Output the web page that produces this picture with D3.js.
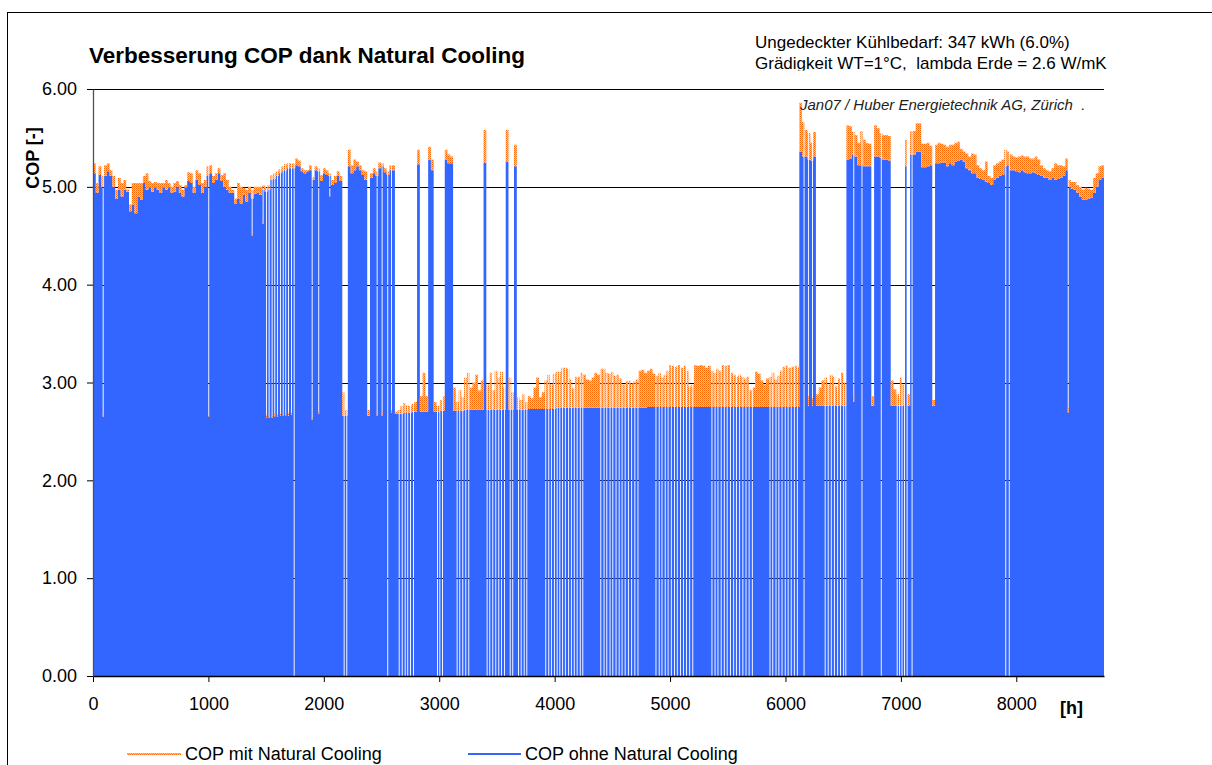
<!DOCTYPE html>
<html>
<head>
<meta charset="utf-8">
<script src="https://cdn.jsdelivr.net/npm/d3@7"></script>
<style>
  html, body { margin: 0; padding: 0; background: #fff; overflow: hidden; }
  svg { display: block; font-family: "Liberation Sans", Arial, sans-serif; }
  .keep-space { white-space: pre; }
</style>
</head>
<body>
<svg id="chart" width="1212" height="765"></svg>
<script>
// Daily COP values (one entry per day of the year, hour = day * 24)
const dayCopOhne = [
  5.14, 4.94, 5.12, 5.00, 5.11, 5.16, 5.11, 5.00, 4.88, 4.97,
  4.90, 4.97, 4.95, 4.75, 4.82, 4.73, 4.90, 4.87, 5.04, 4.97,
  4.99, 4.95, 4.99, 4.97, 4.94, 4.99, 4.97, 4.99, 4.94, 4.95,
  5.00, 4.94, 4.90, 4.99, 5.06, 5.04, 4.94, 5.07, 5.02, 4.94,
  5.00, 5.11, 5.14, 5.04, 5.07, 5.14, 5.06, 5.00, 4.97, 4.94,
  4.94, 4.83, 4.88, 4.83, 4.92, 4.85, 4.94, 4.88, 4.93, 4.94,
  4.92, 4.97, 4.95, 4.97, 5.07, 5.08, 5.11, 5.14, 5.16, 5.17,
  5.19, 5.19, 5.19, 5.22, 5.21, 5.16, 5.14, 5.16, 5.17, 5.07,
  5.17, 5.16, 5.06, 5.14, 5.12, 5.11, 5.02, 5.04, 5.11, 5.06,
  2.66, 2.66, 5.21, 5.14, 5.17, 5.21, 5.17, 5.12, 5.07, 2.66,
  5.09, 5.14, 5.11, 5.19, 5.21, 5.15, 5.12, 5.17, 5.17, 2.68,
  2.68, 2.68, 2.69, 2.69, 2.69, 2.70, 2.70, 5.23, 2.70, 2.70,
  2.70, 5.28, 5.17, 2.70, 2.70, 2.71, 2.71, 5.28, 5.24, 5.24,
  2.71, 2.71, 2.71, 2.71, 2.72, 2.72, 2.72, 2.72, 2.72, 2.72,
  2.72, 5.25, 2.72, 2.72, 2.72, 2.72, 2.72, 2.72, 2.72, 5.26,
  2.72, 2.72, 5.21, 2.72, 2.72, 2.72, 2.72, 2.73, 2.73, 2.73,
  2.73, 2.73, 2.73, 2.73, 2.73, 2.73, 2.73, 2.74, 2.74, 2.74,
  2.74, 2.74, 2.74, 2.74, 2.74, 2.74, 2.74, 2.74, 2.74, 2.74,
  2.74, 2.74, 2.74, 2.74, 2.74, 2.74, 2.74, 2.74, 2.74, 2.74,
  2.74, 2.74, 2.74, 2.74, 2.74, 2.74, 2.74, 2.74, 2.74, 2.74,
  2.75, 2.75, 2.75, 2.75, 2.75, 2.75, 2.75, 2.75, 2.75, 2.75,
  2.75, 2.75, 2.75, 2.75, 2.75, 2.75, 2.75, 2.75, 2.75, 2.75,
  2.75, 2.75, 2.75, 2.75, 2.75, 2.75, 2.75, 2.75, 2.75, 2.75,
  2.75, 2.75, 2.75, 2.75, 2.75, 2.75, 2.75, 2.75, 2.75, 2.75,
  2.75, 2.75, 2.75, 2.75, 2.75, 2.75, 2.75, 2.75, 2.75, 2.75,
  2.75, 2.75, 2.75, 2.75, 2.75, 5.36, 5.31, 5.31, 5.28, 5.27,
  5.31, 2.76, 2.76, 2.76, 2.76, 2.76, 2.76, 2.76, 2.76, 2.76,
  2.76, 2.76, 5.28, 5.29, 5.33, 5.31, 5.22, 5.22, 5.21, 5.21,
  5.21, 2.76, 5.31, 5.31, 5.30, 5.28, 5.28, 5.27, 2.76, 2.76,
  2.76, 2.76, 2.76, 5.21, 2.76, 5.33, 5.33, 5.36, 5.36, 5.20,
  5.20, 5.21, 5.22, 2.76, 5.24, 5.24, 5.25, 5.25, 5.21, 5.24,
  5.22, 5.26, 5.27, 5.28, 5.26, 5.19, 5.17, 5.14, 5.14, 5.09,
  5.08, 5.07, 5.05, 5.04, 5.02, 5.07, 5.09, 5.11, 5.12, 5.21,
  5.22, 5.17, 5.17, 5.16, 5.15, 5.17, 5.15, 5.14, 5.14, 5.15,
  5.14, 5.12, 5.11, 5.09, 5.09, 5.07, 5.09, 5.07, 5.08, 5.09,
  5.11, 5.17, 5.00, 4.98, 4.97, 4.94, 4.90, 4.87, 4.87, 4.88,
  4.89, 4.94, 5.00, 5.07, 5.09
];

const dayCopMit = [
  5.24, 5.04, 5.21, 5.11, 5.22, 5.24, 5.17, 5.11, 4.97, 5.09,
  5.04, 5.07, 4.97, 4.82, 5.04, 5.04, 5.04, 5.04, 5.11, 5.14,
  5.06, 5.04, 5.05, 5.04, 5.04, 5.04, 5.07, 5.04, 5.00, 5.04,
  5.06, 5.02, 4.97, 5.02, 5.15, 5.14, 5.00, 5.17, 5.14, 5.04,
  5.07, 5.21, 5.22, 5.11, 5.14, 5.19, 5.12, 5.14, 5.07, 5.00,
  4.97, 4.88, 5.04, 5.00, 4.99, 4.97, 5.00, 4.97, 5.00, 5.00,
  5.00, 5.02, 5.00, 5.02, 5.12, 5.14, 5.16, 5.18, 5.21, 5.23,
  5.24, 5.24, 5.24, 5.29, 5.27, 5.19, 5.17, 5.17, 5.22, 5.10,
  5.21, 5.19, 5.12, 5.19, 5.17, 5.14, 5.07, 5.11, 5.16, 5.11,
  2.90, 2.72, 5.38, 5.22, 5.28, 5.26, 5.22, 5.17, 5.16, 2.72,
  5.14, 5.19, 5.16, 5.25, 5.24, 5.19, 5.16, 5.22, 5.22, 2.70,
  2.72, 2.76, 2.79, 2.77, 2.76, 2.78, 2.80, 5.38, 2.86, 3.10,
  2.86, 5.41, 5.28, 2.80, 2.76, 2.82, 2.86, 5.38, 5.33, 5.31,
  2.95, 2.80, 2.92, 2.85, 3.05, 3.10, 2.95, 3.00, 3.08, 2.92,
  3.02, 5.58, 2.98, 3.10, 2.92, 3.12, 3.05, 3.11, 2.95, 5.58,
  3.05, 2.90, 5.43, 2.85, 2.82, 2.88, 2.80, 2.86, 2.84, 2.95,
  3.05, 2.85, 2.90, 3.02, 3.08, 2.98, 3.09, 3.11, 3.11, 3.15,
  3.15, 3.14, 3.03, 2.94, 3.06, 3.06, 3.10, 3.08, 3.03, 3.02,
  3.05, 3.10, 3.08, 3.14, 3.14, 3.10, 3.09, 3.11, 3.07, 3.08,
  3.04, 2.98, 3.01, 3.02, 2.99, 3.01, 3.03, 3.12, 3.13, 3.10,
  3.12, 3.14, 3.09, 3.07, 3.10, 3.05, 3.08, 3.12, 3.18, 3.17,
  3.16, 3.18, 3.15, 3.17, 3.12, 2.96, 2.98, 3.18, 3.17, 3.18,
  3.17, 3.15, 3.17, 3.12, 3.10, 3.14, 3.12, 3.18, 3.17, 3.18,
  3.10, 3.08, 3.06, 3.08, 3.06, 3.04, 3.06, 2.92, 2.95, 3.11,
  3.09, 3.02, 2.98, 3.04, 3.06, 3.10, 3.03, 3.07, 3.12, 3.16,
  3.17, 3.15, 3.16, 3.17, 3.16, 5.86, 5.66, 5.58, 5.55, 5.45,
  5.56, 2.88, 2.95, 3.02, 3.05, 2.98, 3.08, 3.06, 2.96, 3.04,
  3.10, 3.00, 5.63, 5.62, 5.56, 5.53, 5.45, 5.57, 5.48, 5.45,
  5.44, 2.86, 5.63, 5.60, 5.55, 5.53, 5.53, 5.52, 3.02, 2.93,
  2.88, 3.05, 2.98, 5.48, 2.88, 5.57, 5.57, 5.65, 5.65, 5.44,
  5.44, 5.45, 5.42, 2.82, 5.43, 5.45, 5.44, 5.43, 5.41, 5.43,
  5.43, 5.45, 5.46, 5.39, 5.36, 5.34, 5.31, 5.34, 5.33, 5.22,
  5.19, 5.17, 5.26, 5.11, 5.09, 5.22, 5.24, 5.26, 5.28, 5.38,
  5.36, 5.33, 5.31, 5.30, 5.31, 5.32, 5.31, 5.31, 5.29, 5.29,
  5.31, 5.28, 5.22, 5.19, 5.17, 5.16, 5.19, 5.24, 5.22, 5.22,
  5.21, 5.29, 5.07, 5.05, 5.05, 5.02, 5.00, 4.97, 4.99, 4.98,
  4.97, 5.09, 5.14, 5.21, 5.22
];

// Short drops within a day: [hour, COP ohne, COP mit]
const dipEvents = [
  [84, 2.65, 2.68], [999, 2.65, 2.67], [1375, 4.50, 4.52], [1470, 4.62, 4.65],
  [1499, 2.64, 2.67], [1522, 2.64, 2.68], [1548, 2.64, 2.67], [1571, 2.65, 2.68],
  [1594, 2.65, 2.67], [1620, 2.66, 2.68], [1644, 2.66, 2.69], [1666, 2.66, 2.68],
  [1690, 2.66, 2.69], [1716, 2.67, 2.69], [1895, 2.62, 2.64], [1952, 2.68, 2.70],
  [2048, 4.90, 4.92], [2458, 2.66, 2.70], [2501, 2.66, 2.70], [2582, 2.69, 2.72],
  [6195, 2.76, 2.86], [6230, 2.76, 2.84], [6588, 2.80, 2.88], [8446, 2.69, 2.75]
];

// Hours where the heat pump is off (COP = 0)
const offHours = [
  1739, 2172, 2195, 2550, 2649, 2675, 2701, 2723, 2747, 2773, 2981, 3001, 3024,
  3151, 3174, 3200, 3226, 3252, 3411, 3434, 3460, 3486, 3512, 3535, 3561, 3611,
  3633, 3683, 3706, 3732, 3755, 3919, 3945, 3968, 3994, 4018, 4041, 4065, 4089,
  4117, 4141, 4166, 4191, 4218, 4240, 4396, 4424, 4448, 4476, 4500, 4528, 4555,
  4580, 4607, 4635, 4663, 4691, 4718, 4874, 4902, 4926, 4954, 4979, 5007, 5034,
  5059, 5087, 5113, 5139, 5166, 5193, 5359, 5386, 5411, 5439, 5466, 5491, 5519,
  5547, 5571, 5599, 5627, 5654, 5681, 5709, 5862, 5886, 5914, 5939, 5966, 5994,
  6019, 6046, 6073, 6099, 6157, 6340, 6366, 6393, 6420, 6448, 6473, 6500, 6519,
  6659, 6826, 6964, 6985, 7006, 7028, 7050, 7093, 7905, 7935
];

const xTickValues = [0, 1000, 2000, 3000, 4000, 5000, 6000, 7000, 8000];
const yTickValues = [0, 1, 2, 3, 4, 5, 6];
const seriesNames = ["COP mit Natural Cooling", "COP ohne Natural Cooling"];
const titleText = "Verbesserung COP dank Natural Cooling";
const noteLines = ["Ungedeckter Kühlbedarf: 347 kWh (6.0%)", "Grädigkeit WT=1°C,  lambda Erde = 2.6 W/mK"];
const creditText = "Jan07 / Huber Energietechnik AG, Zürich  .";

const HOURS_PER_DAY = 24;
const EVENT_HOURS = 8;
const YEAR_HOURS = 8760;
const BLUE = "#3366ff";
const ORANGE = "#ff6600";
const FONT = "'Liberation Sans', Arial, sans-serif";

const svg = d3.select("#chart");

const x = d3.scaleLinear().domain([0, YEAR_HOURS]).range([93, 1104]);
const y = d3.scaleLinear().domain([0, 6]).range([676, 89]);

// Pattern for the dotted orange line series
const defs = svg.append("defs");
const pat = defs.append("pattern")
  .attr("id", "mitDots").attr("width", 2).attr("height", 2)
  .attr("patternUnits", "userSpaceOnUse");
pat.append("rect").attr("width", 2).attr("height", 2).attr("fill", "#ffbf8a");
pat.append("rect").attr("width", 1).attr("height", 1).attr("fill", ORANGE);
pat.append("rect").attr("x", 1).attr("y", 1).attr("width", 1).attr("height", 1).attr("fill", "#ff8a3a");

defs.append("clipPath").attr("id", "noteClip")
  .append("rect").attr("x", 0).attr("y", 0).attr("width", 1212).attr("height", 70.5);

// Outer chart frame
svg.append("rect")
  .attr("x", 7.5).attr("y", 12.5).attr("width", 1400).attr("height", 900)
  .attr("fill", "none").attr("stroke", "#000").attr("stroke-width", 1);

// Build hourly step series from daily values plus short events
const events = dipEvents.map(([h, o, m]) => ({ h, o, m }))
  .concat(offHours.map(h => ({ h, o: 0, m: 0 })))
  .sort((a, b) => a.h - b.h);

const cuts = new Set();
dayCopOhne.forEach((_, d) => cuts.add(d * HOURS_PER_DAY));
events.forEach(e => { cuts.add(e.h); cuts.add(e.h + EVENT_HOURS); });
const cutHours = [...cuts].filter(h => h < YEAR_HOURS).sort((a, b) => a - b);

const series = cutHours.map(h => {
  const ev = events.find(e => h >= e.h && h < e.h + EVENT_HOURS);
  const d = Math.min(Math.floor(h / HOURS_PER_DAY), dayCopOhne.length - 1);
  return ev ? { h, o: ev.o, m: ev.m } : { h, o: dayCopOhne[d], m: dayCopMit[d] };
});
const lastPt = series[series.length - 1];
series.push({ h: YEAR_HOURS, o: lastPt.o, m: lastPt.m });

// Gridlines
svg.append("g").selectAll("line")
  .data(yTickValues.filter(v => v > 0))
  .join("line")
  .attr("x1", x(0)).attr("x2", x(YEAR_HOURS))
  .attr("y1", d => Math.round(y(d)) + 0.5).attr("y2", d => Math.round(y(d)) + 0.5)
  .attr("stroke", "#000").attr("stroke-width", 1);

// COP ohne Natural Cooling (filled)
const areaOhne = d3.area()
  .x(d => x(d.h))
  .y0(y(0))
  .y1(d => y(d.o))
  .curve(d3.curveStepAfter);

svg.append("path")
  .datum(series)
  .attr("d", areaOhne)
  .attr("fill", BLUE);

// COP mit Natural Cooling (gain above the blue)
const areaMit = d3.area()
  .x(d => x(d.h))
  .y0(d => y(d.o))
  .y1(d => y(Math.max(d.m, d.o)))
  .curve(d3.curveStepAfter);

svg.append("path")
  .datum(series)
  .attr("d", areaMit)
  .attr("fill", "url(#mitDots)");

// Axes
const xAxis = svg.append("g")
  .attr("transform", `translate(0,${y(0)})`)
  .call(d3.axisBottom(x).tickValues(xTickValues).tickSize(6).tickSizeOuter(0).tickFormat(d3.format("d")));
xAxis.select(".domain").attr("stroke", "#000").attr("stroke-width", 1.3);
xAxis.selectAll(".tick line").attr("stroke", "#000");
xAxis.selectAll("text")
  .attr("y", 21).attr("dy", "0.71em")
  .attr("font-size", 18).attr("fill", "#000")
  .attr("font-family", FONT);

const yAxis = svg.append("g")
  .attr("transform", `translate(${x(0)},0)`)
  .call(d3.axisLeft(y).tickValues(yTickValues).tickSize(6).tickSizeOuter(0).tickFormat(d3.format(".2f")));
yAxis.select(".domain").attr("stroke", "#505050").attr("stroke-width", 1.3);
yAxis.selectAll(".tick line").attr("stroke", "#000");
yAxis.selectAll("text")
  .attr("x", -16)
  .attr("font-size", 18).attr("fill", "#000")
  .attr("font-family", FONT);

// Axis titles
svg.append("text")
  .attr("transform", "translate(39,158) rotate(-90)")
  .attr("text-anchor", "middle")
  .attr("font-size", 18).attr("font-weight", "bold")
  .text("COP [-]");

svg.append("text")
  .attr("x", 1060).attr("y", 714)
  .attr("font-size", 18).attr("font-weight", "bold")
  .text("[h]");

// Title
svg.append("text")
  .attr("x", 89).attr("y", 63)
  .attr("font-size", 22.5).attr("font-weight", "bold")
  .text(titleText);

// Notes (second line cut at the frame edge)
const notes = svg.append("g").attr("clip-path", "url(#noteClip)");
notes.selectAll("text")
  .data(noteLines)
  .join("text")
  .attr("class", "keep-space")
  .attr("x", 755)
  .attr("y", (d, i) => 48 + i * 20.5)
  .attr("font-size", 17)
  .text(d => d);

svg.append("text")
  .attr("class", "keep-space")
  .attr("x", 800).attr("y", 110)
  .attr("font-size", 15).attr("font-style", "italic").attr("fill", "#222")
  .text(creditText);

// Legend
const legend = svg.append("g");
const legendItems = [
  { name: seriesNames[0], x1: 127, x2: 181, tx: 185, fill: "url(#mitDots)" },
  { name: seriesNames[1], x1: 468, x2: 521, tx: 525, fill: BLUE }
];
legendItems.forEach(it => {
  legend.append("rect")
    .attr("x", it.x1).attr("y", 753)
    .attr("width", it.x2 - it.x1).attr("height", 2)
    .attr("fill", it.fill);
  legend.append("text")
    .attr("x", it.tx).attr("y", 760)
    .attr("font-size", 18)
    .text(it.name);
});
</script>
</body>
</html>
